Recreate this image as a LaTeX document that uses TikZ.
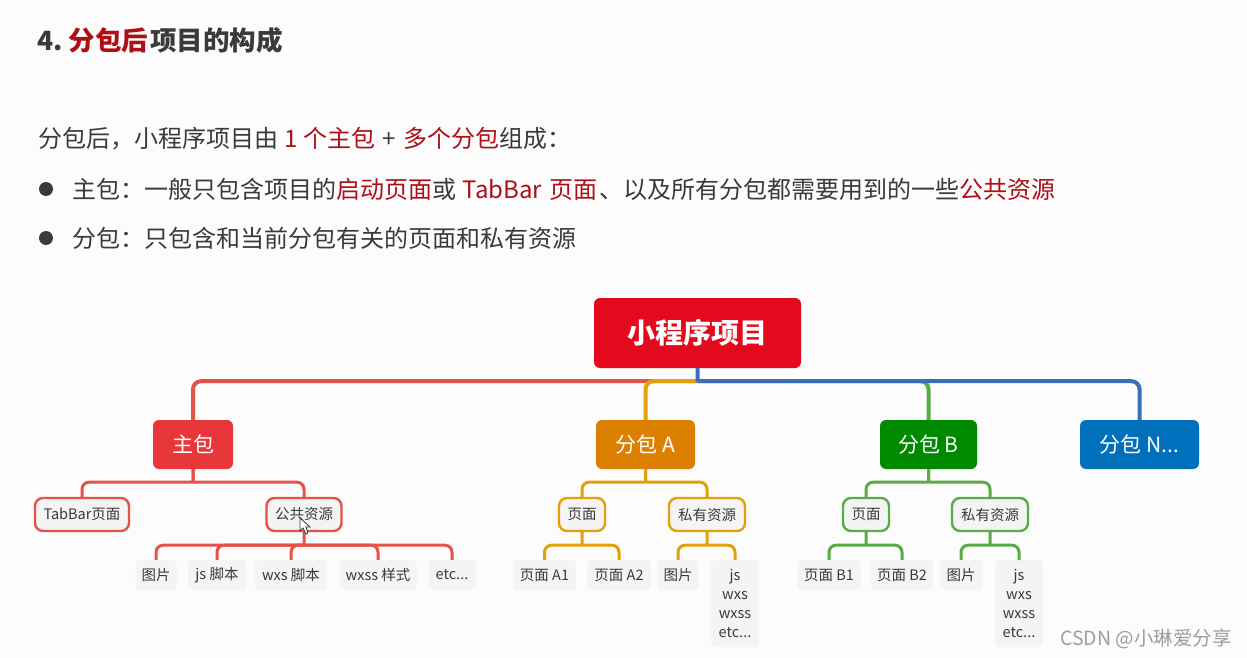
\documentclass[tikz,border=0pt]{standalone}
\usepackage{fontspec}
\setmainfont{Noto Sans CJK SC}
\definecolor{hilite}{HTML}{AE0F16}
\definecolor{bodytext}{HTML}{3A3A3A}
\definecolor{leaffill}{HTML}{F4F4F5}
\definecolor{redline}{HTML}{E4524A}
\definecolor{orangeline}{HTML}{E3A008}
\definecolor{greenline}{HTML}{5AAB46}
\definecolor{blueline}{HTML}{3A6FB5}
\definecolor{rootred}{RGB}{226,10,28}
\definecolor{mainred}{RGB}{231,55,58}
\definecolor{suborange}{RGB}{221,127,0}
\definecolor{subgreen}{RGB}{0,138,0}
\definecolor{subblue}{RGB}{0,112,189}
\tikzset{
  textline/.style={anchor=west, inner sep=0pt, text=bodytext, font=\fontsize{24}{28}\selectfont},
  topbox/.style={rounded corners=6pt, text=white, minimum height=49pt, inner sep=0pt, font=\fontsize{21}{25}\selectfont},
  midbox/.style={rounded corners=8pt, draw=#1, line width=2.4pt, fill=leaffill, text=bodytext, minimum height=33pt, inner sep=0pt, font=\fontsize{14.5}{17}\selectfont},
  leaf/.style={rounded corners=4pt, fill=leaffill, text=bodytext, minimum height=30pt, inner sep=0pt, font=\fontsize{14.5}{19}\selectfont},
  bigline/.style={draw=#1, line width=4pt, rounded corners=8pt},
  smallline/.style={draw=#1, line width=3pt, rounded corners=7pt}
}
\begin{document}
\begin{tikzpicture}[x=1pt, y=1pt]
    \useasboundingbox (0,0) rectangle (1247,-658);
    \fill[white!99!black] (0,0) rectangle (1247,-658);

    % heading and text
    \node[textline, font=\fontsize{26.5}{30}\selectfont\bfseries] (title) at (37.5,-40.5) {4.\kern-2.5pt{} \textcolor{hilite}{分包后}\kern2pt 项目的构成};
    \node[textline] (intro) at (38,-139) {分包后，小程序项目由\kern1pt{} \textcolor{hilite}{1 个主包}\kern2pt{} +\kern2pt{} \textcolor{hilite}{多个分包}组成：};
    \node[textline] (pointa) at (72,-189) {主包：一般只包含项目的\textcolor{hilite}{启动页面}或\kern1pt{} \textcolor{hilite}{TabBar\kern2pt{} 页面}\kern2pt 、以及所有分包都需要用到的一些\textcolor{hilite}{公共资源}};
    \node[textline] (pointb) at (72,-238) {分包：只包含和当前分包有关的页面和私有资源};
    \fill[bodytext] (46,-189) circle (7pt);
    \fill[bodytext] (46,-238) circle (7pt);

    % top level
    \node[topbox, fill=rootred, minimum width=207pt, minimum height=70pt, font=\fontsize{28}{32}\selectfont\bfseries] (root) at (697.5,-333) {小程序项目};
    \node[topbox, fill=mainred, minimum width=80pt] (zhubao) at (193,-444.5) {主包};
    \node[topbox, fill=suborange, minimum width=99pt] (fenbaoa) at (645.5,-444.5) {分包 A};
    \node[topbox, fill=subgreen, minimum width=97pt] (fenbaob) at (928.5,-444.5) {分包 B};
    \node[topbox, fill=subblue, minimum width=119pt] (fenbaon) at (1139.5,-444.5) {分包 N...};

    % second level
    \node[midbox=redline, minimum width=94pt] (tabbar) at (82,-514.5) {TabBar页面};
    \node[midbox=redline, minimum width=75pt] (gonggong) at (304,-514.5) {公共资源};
    \node[midbox=orangeline, minimum width=46pt] (pagea) at (582,-514.5) {页面};
    \node[midbox=orangeline, minimum width=76pt] (siyoua) at (707,-514.5) {私有资源};
    \node[midbox=greenline, minimum width=46pt] (pageb) at (866,-514.5) {页面};
    \node[midbox=greenline, minimum width=76pt] (siyoub) at (990,-514.5) {私有资源};

    % leaves
    \node[leaf, minimum width=41pt] (tupian) at (156,-575) {图片};
    \node[leaf, minimum width=58pt] (jsjb) at (217,-575) {js 脚本};
    \node[leaf, minimum width=72pt] (wxsjb) at (291,-575) {wxs 脚本};
    \node[leaf, minimum width=77pt] (wxssys) at (378,-575) {wxss 样式};
    \node[leaf, minimum width=47pt] (etc) at (452,-575) {etc...};
    \node[leaf, minimum width=63pt] (pagea1) at (544.5,-575) {页面 A1};
    \node[leaf, minimum width=64pt] (pagea2) at (619,-575) {页面 A2};
    \node[leaf, minimum width=41pt] (tupiana) at (678,-575) {图片};
    \node[leaf, minimum width=48pt, minimum height=87pt, anchor=north, align=center] (filesa) at (735,-560) {js\\wxs\\wxss\\etc...};
    \node[leaf, minimum width=63pt] (pageb1) at (829,-575) {页面 B1};
    \node[leaf, minimum width=62pt] (pageb2) at (902,-575) {页面 B2};
    \node[leaf, minimum width=43pt] (tupianb) at (961,-575) {图片};
    \node[leaf, minimum width=48pt, minimum height=87pt, anchor=north, align=center] (filesb) at (1019,-560) {js\\wxs\\wxss\\etc...};

    % first level lines
    \draw[bigline=redline] (root.south) ++(0,-13) -| (zhubao.north);
    \draw[bigline=orangeline] (root.south) ++(-2,-13) -| (fenbaoa.north);
    \draw[bigline=greenline] (root.south) ++(0,-13) -| (fenbaob.north);
    \draw[bigline=blueline] (root.south) -- ++(0,-13) ++(0,0) -| (fenbaon.north);

    % lines below the top boxes
    \draw[smallline=redline] (zhubao.south) -- ++(0,-13) ++(0,0) -| (tabbar.north);
    \draw[smallline=redline] (zhubao.south) -- ++(0,-13) ++(0,0) -| (gonggong.north);
    \draw[smallline=orangeline] (fenbaoa.south) -- ++(0,-13) ++(0,0) -| (pagea.north);
    \draw[smallline=orangeline] (fenbaoa.south) -- ++(0,-13) ++(0,0) -| (siyoua.north);
    \draw[smallline=greenline] (fenbaob.south) -- ++(0,-13) ++(0,0) -| (pageb.north);
    \draw[smallline=greenline] (fenbaob.south) -- ++(0,-13) ++(0,0) -| (siyoub.north);

    % lines down to the leaves
    \draw[smallline=redline] (gonggong.south) -- ++(0,-13) ++(0,0) -| (tupian.north);
    \draw[smallline=redline] (gonggong.south) ++(0,-13) -| (jsjb.north);
    \draw[smallline=redline] (gonggong.south) ++(0,-13) -| (wxsjb.north);
    \draw[smallline=redline] (gonggong.south) ++(0,-13) -| (wxssys.north);
    \draw[smallline=redline] (gonggong.south) ++(0,-13) -| (etc.north);
    \draw[smallline=orangeline] (pagea.south) -- ++(0,-13) ++(0,0) -| (pagea1.north);
    \draw[smallline=orangeline] (pagea.south) ++(0,-13) -| (pagea2.north);
    \draw[smallline=orangeline] (siyoua.south) -- ++(0,-13) ++(0,0) -| (tupiana.north);
    \draw[smallline=orangeline] (siyoua.south) ++(0,-13) -| (filesa.north);
    \draw[smallline=greenline] (pageb.south) -- ++(0,-13) ++(0,0) -| (pageb1.north);
    \draw[smallline=greenline] (pageb.south) ++(0,-13) -| (pageb2.north);
    \draw[smallline=greenline] (siyoub.south) -- ++(0,-13) ++(0,0) -| (tupianb.north);
    \draw[smallline=greenline] (siyoub.south) ++(0,-13) -| (filesb.north);

    % mouse pointer
    \filldraw[fill=white, draw=bodytext, line width=.8pt] (300,-518) -- (300,-531) -- (303,-528) -- (306,-534) -- (308,-533) -- (306,-527) -- (310,-527) -- cycle;

    % watermark
    \node[anchor=east, inner sep=0pt, text=black!38, font=\fontsize{19.5}{23}\selectfont] (mark) at (1232,-639) {CSDN @小琳爱分享};
\end{tikzpicture}
\end{document}
